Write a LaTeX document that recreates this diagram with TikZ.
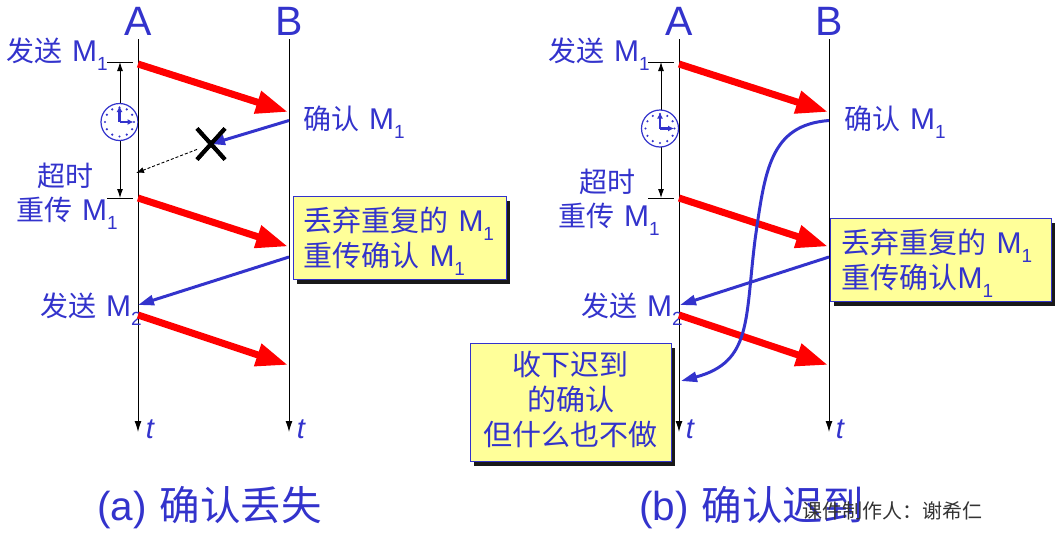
\documentclass[tikz,border=0pt]{standalone}
\usepackage{fontspec}
\setmainfont{Noto Sans CJK SC}
\newfontfamily\latinfont{Liberation Sans}
\usetikzlibrary{arrows.meta}
\usetikzlibrary{shapes.misc}
\usetikzlibrary{shadows}
\definecolor{inkblue}{RGB}{51,51,204}
\definecolor{notepaper}{RGB}{255,255,153}
\newcommand{\MM}[1]{{\latinfont\fontsize{30}{35}\selectfont M\raisebox{-.3em}{\fontsize{19}{19}\selectfont #1}}}
\newcommand{\gap}{\hspace{10pt}}

\begin{document}
\begin{tikzpicture}
	[
	x=1pt, y=-1pt,
	> = latex,
	timeline/.style = {draw=black, line width=1pt, -{Latex[length=11pt,width=7pt]}},
	msg/.style = {draw=red, line width=7pt, -{Triangle[length=32pt,width=22pt]}},
	ack/.style = {draw=inkblue, line width=3pt, -{Triangle[length=16pt,width=10pt]}},
	tick/.style = {draw=black, line width=0.9pt},
	span/.style = {draw=black, line width=0.9pt, {Latex[length=9pt,width=6pt]}-{Latex[length=9pt,width=6pt]}},
	party/.style = {text=inkblue, font=\latinfont\fontsize{41}{41}\selectfont, inner sep=0pt},
	timename/.style = {text=inkblue, font=\latinfont\itshape\fontsize{29}{29}\selectfont, inner sep=0pt},
	lab/.style = {text=inkblue, font=\fontsize{28}{35}\selectfont, inner sep=0pt},
	caption/.style = {text=inkblue, font=\fontsize{40.5}{41}\selectfont, inner sep=0pt},
	note/.style = {draw=inkblue, line width=1pt, fill=notepaper, text=inkblue, font=\fontsize{29}{35}\selectfont,
		inner sep=0pt, drop shadow={shadow xshift=3.5pt, shadow yshift=-4pt, fill=black!90, opacity=1}},
	crossmark/.style = {inner sep=0pt, draw=black, line width=4pt, cross out, minimum width=24pt, minimum height=27pt},
	timer/.pic = {
		\draw[inkblue, fill=white, line width=1.2pt] (0,0) circle (18.5);
		\foreach \ang in {0,30,...,330} \fill[inkblue] (\ang:14.5) circle (1.2);
		\draw[inkblue, line width=2.4pt, -{Latex[length=6pt,width=6pt]}] (0,0) -- (0,-16);
		\draw[inkblue, line width=2.4pt, -{Latex[length=6pt,width=6pt]}] (0,0) -- (14,0);
	}
	]
	\useasboundingbox (0,0) rectangle (1059,536);

	% (a) lost acknowledgement
	\coordinate (aTop) at (138,39);
	\coordinate (aEnd) at (138,432);
	\coordinate (bTop) at (289,39);
	\coordinate (bEnd) at (289,432);
	\coordinate (aSend) at (138,64);
	\coordinate (bGot) at (288,112);
	\coordinate (aResend) at (138,198);
	\coordinate (bGotAgain) at (288,246.5);
	\coordinate (aNext) at (138,315);
	\coordinate (bNext) at (288,365);
	\coordinate (bAck) at (289,120.5);
	\coordinate (aMissed) at (136,173);
	\coordinate (bAckAgain) at (289,257);
	\coordinate (aAckAgain) at (138,305);
	\coordinate (tickL) at (107,62);
	\coordinate (tickR) at (133,62);
	\coordinate (tickLow) at (107,198);
	\coordinate (tickLowR) at (133,198);
	\coordinate (spanTop) at (120,62);
	\coordinate (spanLow) at (120,198);

	\draw[tick] (tickL) -- (tickR);
	\draw[tick] (tickLow) -- (tickLowR);
	\draw[span] (spanTop) -- (spanLow);
	\pic at (119.5,122) {timer};
	\draw[timeline] (aTop) -- (aEnd);
	\draw[timeline] (bTop) -- (bEnd);

	\node[party] (nameA) at (138,21) {A};
	\node[party] (nameB) at (289,21) {B};
	\node[timename] (tA) at (150,429) {t};
	\node[timename] (tB) at (301,429) {t};

	\node[lab, anchor=west] (send1) at (6,54) {发送\gap\MM{1}};
	\node[lab] (timeout) at (65,176) {超时};
	\node[lab, anchor=west] (resend1) at (16,213) {重传\gap\MM{1}};
	\node[lab, anchor=west] (send2) at (40,309) {发送\gap\MM{2}};
	\node[lab, anchor=west] (ack1) at (303,122) {确认\gap\MM{1}};

	\node[note, align=left, anchor=north west, minimum width=213pt, minimum height=83pt, text width=193pt] (dropA) at (293,196) {\rule{0pt}{30pt}丢弃重复的\gap\MM{1}\\重传确认\gap\MM{1}};

	\draw[msg] (aSend) -- (bGot);
	\draw[msg] (aResend) -- (bGotAgain);
	\draw[msg] (aNext) -- (bNext);

	\node[crossmark] (lost) at (211,144) {};
	\draw[draw=inkblue, line width=3pt, -{Triangle[length=14pt,width=10pt]}] (bAck) -- (lost.center);
	\draw[densely dashed, black, line width=0.9pt, -{Latex[length=8pt,width=6pt]}] (lost) -- (aMissed);
	\node[crossmark] (lostTop) at (lost) {};
	\draw[ack] (bAckAgain) -- (aAckAgain);

	\node[caption, anchor=west] (capA) at (97,508) {{\latinfont (a)}\hspace{13pt}确认丢失};

	% (b) late acknowledgement
	\coordinate (cTop) at (679,39);
	\coordinate (cEnd) at (679,432);
	\coordinate (dTop) at (829,39);
	\coordinate (dEnd) at (829,432);
	\coordinate (cSend) at (679,64);
	\coordinate (dGot) at (828,112);
	\coordinate (cResend) at (679,198);
	\coordinate (dGotAgain) at (828,246.5);
	\coordinate (cNext) at (679,315);
	\coordinate (dNext) at (828,365);
	\coordinate (dAck) at (829,120.5);
	\coordinate (cLate) at (681,381);
	\coordinate (dAckAgain) at (829,257);
	\coordinate (cAckAgain) at (680,305);
	\coordinate (tick2L) at (648,62);
	\coordinate (tick2R) at (674,62);
	\coordinate (tick2Low) at (648,198);
	\coordinate (tick2LowR) at (674,198);
	\coordinate (span2Top) at (661,62);
	\coordinate (span2Low) at (661,198);

	\draw[tick] (tick2L) -- (tick2R);
	\draw[tick] (tick2Low) -- (tick2LowR);
	\draw[span] (span2Top) -- (span2Low);
	\pic at (660,128.5) {timer};
	\draw[timeline] (cTop) -- (cEnd);
	\draw[timeline] (dTop) -- (dEnd);

	\node[party] (nameC) at (679,21) {A};
	\node[party] (nameD) at (829,21) {B};
	\node[timename] (tC) at (690,429) {t};
	\node[timename] (tD) at (840,429) {t};

	\node[lab, anchor=west] (send3) at (548,54) {发送\gap\MM{1}};
	\node[lab] (timeout2) at (607,182) {超时};
	\node[lab, anchor=west] (resend2) at (558,219) {重传\gap\MM{1}};
	\node[lab, anchor=west] (send4) at (581,309) {发送\gap\MM{2}};
	\node[lab, anchor=west] (ack2) at (844,122) {确认\gap\MM{1}};

	\node[note, align=left, anchor=north west, minimum width=221pt, minimum height=83pt, text width=199pt] (dropB) at (830,218) {\rule{0pt}{30pt}丢弃重复的\gap\MM{1}\\重传确认\MM{1}};
	\node[note, align=center, anchor=north west, minimum width=201pt, minimum height=118pt, text width=195pt] (keep) at (469.5,343) {收下迟到\\的确认\\但什么也不做\rule[-8pt]{0pt}{8pt}};

	\draw[msg] (cSend) -- (dGot);
	\draw[msg] (cResend) -- (dGotAgain);
	\draw[msg] (cNext) -- (dNext);
	\draw[ack] (dAckAgain) -- (cAckAgain);
	\draw[ack] (dAck) .. controls (770,125) and (765,170) .. (755,240) .. controls (745,320) and (752,362) .. (cLate);

	\node[caption, anchor=west] (capB) at (639,508) {{\latinfont (b)}\hspace{13pt}确认迟到};
	\node[text=black!80, font=\fontsize{20}{20}\selectfont, inner sep=0pt, anchor=west] (maker) at (802,511) {课件制作人：谢希仁};
\end{tikzpicture}
\end{document}
